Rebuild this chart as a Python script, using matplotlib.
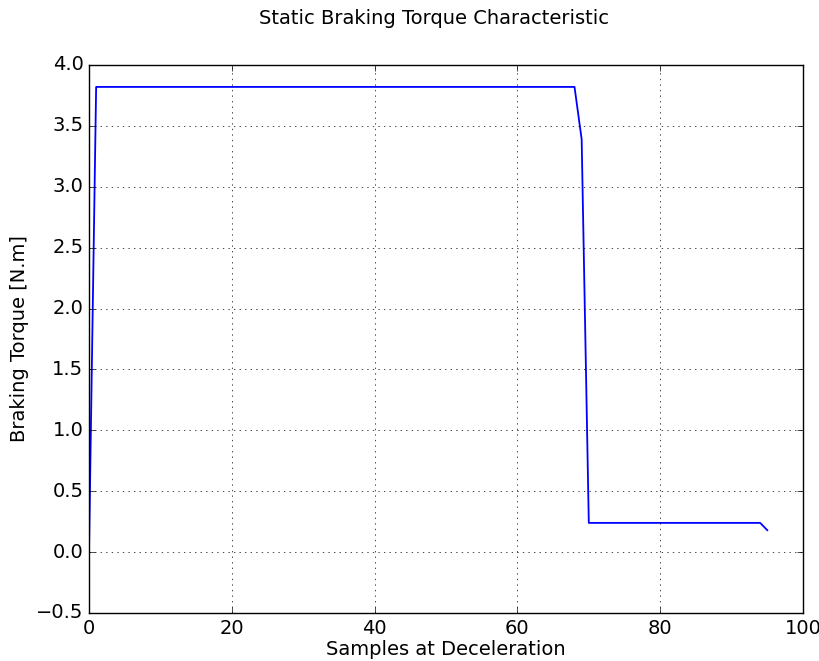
import matplotlib
matplotlib.use("Agg")
import matplotlib.pyplot as plt

plt.style.use("classic")
plt.rcParams["font.size"] = 14

# breakpoints of the torque curve (samples, N.m)
samples = [0, 1, 68, 69, 70, 94, 95]
torque = [0.0, 3.82, 3.82, 3.39, 0.24, 0.24, 0.18]

fig = plt.figure(figsize=(8.2, 6.61), dpi=100)
ax = fig.add_axes([89 / 820, 1 - 613 / 661, 714 / 820, 548 / 661])

ax.plot(samples, torque, color="blue", lw=1.3)
ax.set_xlim(0, 100)
ax.set_ylim(-0.5, 4.0)
ax.set_xticks([0, 20, 40, 60, 80, 100])
ax.set_yticks([-0.5, 0.0, 0.5, 1.0, 1.5, 2.0, 2.5, 3.0, 3.5, 4.0])
ax.tick_params(labelsize=14)
ax.grid(True)
ax.set_xlabel("Samples at Deceleration", fontsize=14, labelpad=2)
ax.set_ylabel("Braking Torque [N.m]", fontsize=14)

fig.text(434 / 820, 1 - 18 / 661, "Static Braking Torque Characteristic",
         ha="center", va="center", fontsize=14)

fig.savefig("out.png", dpi=100)
